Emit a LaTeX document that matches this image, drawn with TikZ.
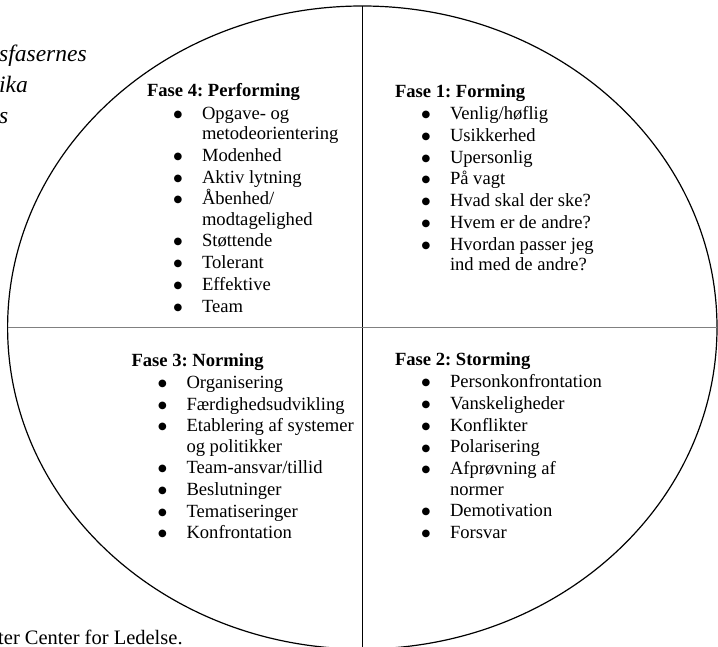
\documentclass[tikz,border=0pt]{standalone}
\usepackage{fontspec}
\setmainfont{Liberation Serif}
\newfontfamily\symbolfont{DejaVu Sans}
\usetikzlibrary{shapes.geometric}
\frenchspacing

% a full round bullet
\newcommand\traitbullet{\raisebox{2pt}{\symbolfont\fontsize{10}{10}\selectfont ●}}

% bulleted list of traits for one phase
\newenvironment{traits}{%
  \begin{list}{\traitbullet}{%
    \setlength\leftmargin{55pt}%
    \setlength\labelwidth{28.4pt}%
    \setlength\labelsep{0pt}%
    \setlength\itemsep{1.3pt}%
    \setlength\parsep{0pt}%
    \setlength\topsep{2pt}%
    \setlength\partopsep{0pt}%
    \renewcommand\makelabel[1]{##1\hfil}}}%
  {\end{list}}

\newcommand\phasebox[2]{%
  \begin{minipage}[t]{250pt}\textbf{#1}\begin{traits}#2\end{traits}\end{minipage}}

\tikzset{
  phase/.style={anchor=base west, inner sep=0pt, outer sep=0pt,
    font=\fontsize{18.6}{20.4}\selectfont},
  edge text/.style={anchor=base west, inner sep=0pt},
  ring/.style={ellipse, draw, line width=1.2pt, inner sep=0pt, outer sep=0pt,
    minimum width=709.4pt, minimum height=643pt},
  vsplit/.style={line width=1.5pt},
  hsplit/.style={line width=1.9pt, draw={rgb,255:red,128;green,128;blue,128}}
}

\begin{document}
\begin{tikzpicture}[x=1pt, y=-1pt]
  \useasboundingbox (0,0) rectangle (718,647);
  \clip (0,0) rectangle (718,647);

  % surrounding page text, cut by the frame
  \node[edge text, font=\fontsize{23.5}{31}\selectfont\itshape] (capA) at (-1,61.5) {sfasernes};
  \node[edge text, font=\fontsize{23.5}{31}\selectfont\itshape] (capB) at (-1,92.5) {ika};
  \node[edge text, font=\fontsize{23.5}{31}\selectfont\itshape] (capC) at (-1,123.5) {s};
  \node[edge text, font=\fontsize{20.5}{24}\selectfont] (source) at (-2,644) {ter Center for Ledelse.};

  % the circle of phases and its quadrants
  \node[ring] (ring) at (362.3,327.5) {};
  \draw[vsplit] (ring.north) -- (ring.south);
  \draw[hsplit] (ring.west) -- (ring.east);

  \node[phase] (performing) at (147,97) {\phasebox{Fase 4: Performing}{%
    \item Opgave- og\newline metodeorientering
    \item Modenhed
    \item Aktiv lytning
    \item Åbenhed/\newline modtagelighed
    \item Støttende
    \item Tolerant
    \item Effektive
    \item Team}};

  \node[phase] (forming) at (395,97.5) {\phasebox{Fase 1: Forming}{%
    \item Venlig/høflig
    \item Usikkerhed
    \item Upersonlig
    \item På vagt
    \item Hvad skal der ske?
    \item Hvem er de andre?
    \item Hvordan passer jeg\newline ind med de andre?}};

  \node[phase] (norming) at (131.5,366) {\phasebox{Fase 3: Norming}{%
    \item Organisering
    \item Færdighedsudvikling
    \item Etablering af systemer\newline og politikker
    \item Team-ansvar/tillid
    \item Beslutninger
    \item Tematiseringer
    \item Konfrontation}};

  \node[phase] (storming) at (395,365.5) {\phasebox{Fase 2: Storming}{%
    \item Personkonfrontation
    \item Vanskeligheder
    \item Konflikter
    \item Polarisering
    \item Afprøvning af\newline normer
    \item Demotivation
    \item Forsvar}};
\end{tikzpicture}
\end{document}
